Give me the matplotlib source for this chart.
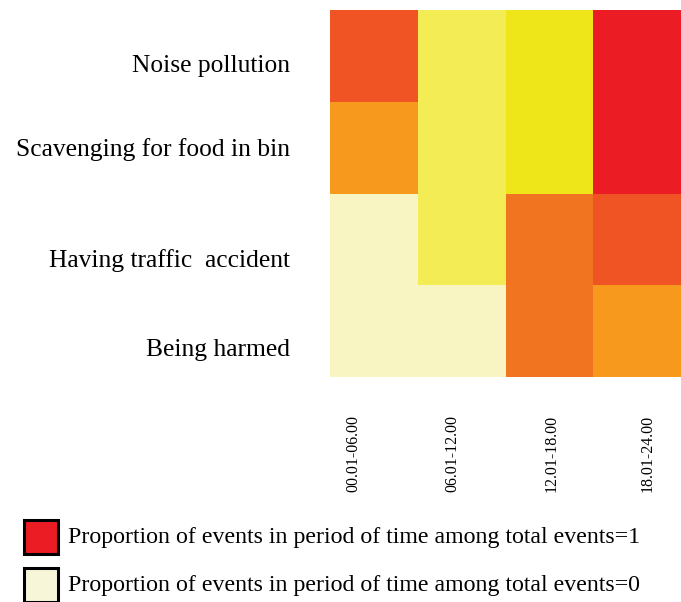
import numpy as np
import matplotlib
matplotlib.use("Agg")
import matplotlib.pyplot as plt
from matplotlib.colors import LinearSegmentedColormap
from matplotlib.patches import Rectangle

# data
events = ["Noise pollution", "Scavenging for food in bin",
          "Having traffic  accident", "Being harmed"]
periods = ["00.01-06.00", "06.01-12.00", "12.01-18.00", "18.01-24.00"]
noise = [0.8, 0.2, 0.3, 1.0]
scavenging = [0.6, 0.2, 0.3, 1.0]
traffic = [0.0, 0.2, 0.7, 0.8]
harmed = [0.0, 0.0, 0.7, 0.6]

# colour scale (proportion -> colour)
stops = [(0.0, "#f8f5c3"), (0.2, "#f4ec55"), (0.3, "#efe619"),
         (0.6, "#f7991c"), (0.7, "#f17521"), (0.8, "#f05424"),
         (1.0, "#ec1c24")]
cmap = LinearSegmentedColormap.from_list("events", stops)

M = np.array([noise, scavenging, traffic, harmed])

fig = plt.figure(figsize=(6.81, 6.02), dpi=100)
ax = fig.add_axes([330/681, 1-377/602, 351/681, 367/602])
ax.pcolormesh(np.arange(5), np.arange(5), M, cmap=cmap, vmin=0, vmax=1)
ax.set_xlim(0, 4)
ax.set_ylim(4, 0)
for s in ax.spines.values():
    s.set_visible(False)

serif = "Liberation Serif"
ax.set_yticks([0.58, 1.49, 2.70, 3.68])
ax.set_yticklabels(events, family=serif, fontsize=18.4)
ax.tick_params(axis="y", length=0, pad=29)
ax.set_xticks([0.27, 1.39, 2.53, 3.62])
ax.set_xticklabels(periods, family=serif, fontsize=11.5, rotation=90)
ax.tick_params(axis="x", length=0, pad=27)

# legend boxes
legend = [("#ec1c24", "Proportion of events in period of time among total events=1", 537),
          ("#f8f6d8", "Proportion of events in period of time among total events=0", 585)]
for col, txt, yc in legend:
    fig.patches.append(Rectangle((24/681, 1-(yc+17)/602), 34/681, 34/602,
                                 transform=fig.transFigure, facecolor=col,
                                 edgecolor="black", linewidth=2.2))
    fig.text(68/681, 1-yc/602, txt, family=serif, fontsize=17.2, va="center")

fig.savefig("out.png", dpi=100)
